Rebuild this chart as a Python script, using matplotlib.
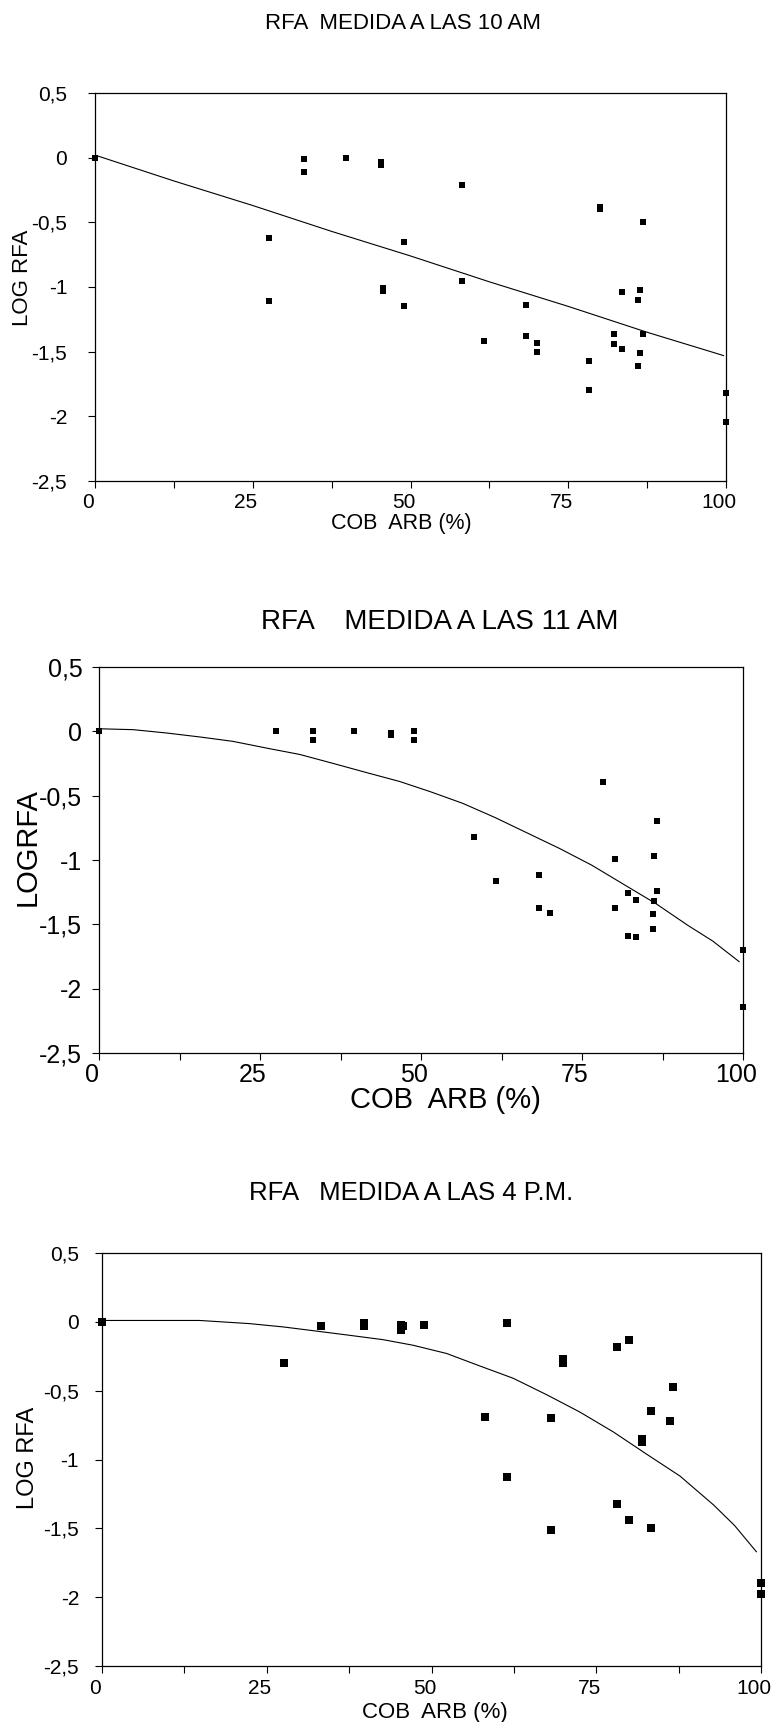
import matplotlib
matplotlib.use('Agg')
import matplotlib.pyplot as plt
from matplotlib.transforms import ScaledTranslation

plt.rcParams['font.family'] = 'Liberation Sans'

# figure size in pixels (dpi 100)
W, H = 776, 1722

# ticks shared by the three panels
x_ticks = [0, 25, 50, 75, 100]
x_ticklabels = ['0', '25', '50', '75', '100']
x_minor = [12.5, 37.5, 62.5, 87.5]
y_ticks = [0.5, 0, -0.5, -1, -1.5, -2, -2.5]
y_ticklabels = ['0,5', '0', '-0,5', '-1', '-1,5', '-2', '-2,5']

# ---- RFA medida a las 10 AM ----
x_10am = [0, 27.5, 27.5, 33.2, 33.2, 39.7, 45.3, 45.3, 45.6, 45.6, 48.9, 48.9,
          58.2, 58.2, 61.6, 68.3, 68.3, 70.1, 70.1, 78.3, 78.3, 80.1, 80.1,
          82.2, 82.2, 83.5, 83.5, 86.0, 86.0, 86.3, 86.3, 86.8, 86.8, 100, 100]
y_10am = [0, -0.62, -1.11, -0.01, -0.11, 0.0, -0.03, -0.06, -1.01, -1.03, -0.65, -1.15,
          -0.21, -0.95, -1.42, -1.14, -1.38, -1.43, -1.50, -1.57, -1.80, -0.38, -0.40,
          -1.36, -1.44, -1.04, -1.48, -1.10, -1.61, -1.02, -1.51, -0.50, -1.36, -1.82, -2.04]
fit_x_10am = [0, 12.5, 25, 37.5, 50, 62.5, 75, 87.5, 99.6]
fit_y_10am = [0.02, -0.18, -0.37, -0.57, -0.76, -0.96, -1.15, -1.35, -1.53]

# ---- RFA medida a las 11 AM ----
x_11am = [0, 27.5, 33.2, 33.2, 39.6, 45.4, 45.4, 48.9, 48.9, 58.2, 61.6, 68.3, 68.3,
          70.0, 78.2, 80.1, 80.1, 82.1, 82.1, 83.4, 83.4, 86.0, 86.0, 86.2, 86.2,
          86.7, 86.7, 100, 100]
y_11am = [0, 0, 0, -0.07, 0, -0.01, -0.03, 0, -0.07, -0.82, -1.16, -1.12, -1.37,
          -1.41, -0.39, -0.99, -1.37, -1.26, -1.59, -1.31, -1.60, -1.42, -1.54, -0.97, -1.32,
          -0.70, -1.24, -1.70, -2.14]
fit_x_11am = [0, 5.3, 10.5, 15.7, 20.8, 26.0, 31.2, 36.4, 41.5, 46.7, 51.5, 56.5,
              61.5, 66.5, 71.5, 76.5, 81.5, 86.5, 91.5, 95.3, 99.4]
fit_y_11am = [0.02, 0.013, -0.013, -0.044, -0.078, -0.13, -0.18, -0.25, -0.32, -0.39, -0.47,
              -0.56, -0.67, -0.79, -0.91, -1.04, -1.19, -1.34, -1.51, -1.63, -1.79]

# ---- RFA medida a las 4 PM ----
x_4pm = [0, 27.6, 33.3, 39.7, 39.7, 45.3, 45.3, 45.6, 48.9, 58.1, 61.5, 61.5, 68.2, 68.2,
         69.9, 69.9, 78.2, 78.2, 80.0, 80.0, 82.0, 82.0, 83.3, 83.3, 86.2, 86.7, 100, 100]
y_4pm = [0, -0.30, -0.03, -0.01, -0.03, -0.02, -0.06, -0.03, -0.02, -0.69, -0.01, -1.13,
         -0.70, -1.51, -0.27, -0.30, -0.18, -1.32, -0.13, -1.44, -0.85, -0.87, -0.65, -1.50,
         -0.72, -0.47, -1.90, -1.98]
fit_x_4pm = [0, 14.8, 22.4, 27.5, 32.5, 37.6, 42.7, 47.2, 52.3, 57.3, 62.4, 67.5,
             72.5, 77.6, 82.6, 87.7, 92.8, 96.0, 99.3]
fit_y_4pm = [0.01, 0.01, -0.013, -0.037, -0.067, -0.098, -0.13, -0.17, -0.23, -0.32, -0.41,
             -0.53, -0.655, -0.80, -0.96, -1.12, -1.33, -1.48, -1.67]


fig = plt.figure(figsize=(W / 100, H / 100), dpi=100)


# box given in pixels: left, top, right, bottom
def make_axes(left, top, right, bottom):
    return fig.add_axes([left / W, 1 - bottom / H, (right - left) / W, (bottom - top) / H])


# put a text at pixel position (x, y) of the figure
def ftext(x, y, s, **kw):
    fig.text(x / W, 1 - y / H, s, **kw)


# draws one panel
def panel(box, xs, ys, fx, fy, tick_size, xpad, ypad, ms):
    ax = make_axes(*box)
    ax.plot(fx, fy, color='black', lw=0.8)
    ax.plot(xs, ys, 's', color='black', ms=ms, mew=0, clip_on=False, zorder=5)
    ax.set_xlim(0, 100)
    ax.set_ylim(-2.5, 0.5)
    ax.set_xticks(x_ticks)
    ax.set_xticklabels(x_ticklabels)
    ax.set_xticks(x_minor, minor=True)
    ax.set_yticks(y_ticks)
    ax.set_yticklabels(y_ticklabels)
    ax.tick_params(axis='both', which='both', direction='out', length=5, width=0.8,
                   labelsize=tick_size, color='black')
    ax.tick_params(axis='x', pad=xpad)
    ax.tick_params(axis='y', pad=ypad)
    for s in ax.spines.values():
        s.set_linewidth(0.9)
    # labels of the x axis sit a bit to the left in the original
    for lab in ax.get_xticklabels():
        lab.set_transform(lab.get_transform() + ScaledTranslation(-0.07, 0, fig.dpi_scale_trans))
    return ax


panel((95, 93, 726, 481), x_10am, y_10am, fit_x_10am, fit_y_10am, 15, 4, 15, 5)
ftext(403, 29, 'RFA  MEDIDA A LAS 10 AM', fontsize=16, ha='center', va='baseline')
ftext(401, 529, 'COB  ARB (%)', fontsize=15.5, ha='center', va='baseline')
ftext(23, 278, 'LOG RFA', fontsize=16, rotation=90, ha='center', va='center')

panel((99, 667, 743, 1053), x_11am, y_11am, fit_x_11am, fit_y_11am, 18, 2, 7, 5)
ftext(440, 629, 'RFA    MEDIDA A LAS 11 AM', fontsize=20, ha='center', va='baseline')
ftext(445, 1108, 'COB  ARB (%)', fontsize=21, ha='center', va='baseline')
ftext(28, 847, 'LOGRFA', fontsize=21, rotation=90, ha='center', va='center')

panel((102, 1253, 761, 1666), x_4pm, y_4pm, fit_x_4pm, fit_y_4pm, 15, 4, 11.5, 5.6)
ftext(411, 1200, 'RFA   MEDIDA A LAS 4 P.M.', fontsize=18.5, ha='center', va='baseline')
ftext(435, 1718, 'COB  ARB (%)', fontsize=16, ha='center', va='baseline')
ftext(28, 1458, 'LOG RFA', fontsize=17, rotation=90, ha='center', va='center')

fig.savefig('out.png', dpi=100)
